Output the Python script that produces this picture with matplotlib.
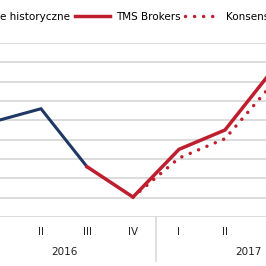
import matplotlib
matplotlib.use('Agg')
import matplotlib.pyplot as plt
import matplotlib.transforms as mtransforms
from matplotlib.lines import Line2D

# quarters 2016 I .. 2017 IV
quarters = ['I', 'II', 'III', 'IV', 'I', 'II', 'III', 'IV']
years = ['2016', '2017']

historic_x = [0, 1, 2]
historic = [4.95, 5.6, 2.6]

tms_x = [2, 3, 4, 5, 6]
tms = [2.6, 1.03, 3.5, 4.5, 7.5]

cons_x = [3, 4, 5, 6]
cons = [1.03, 3.05, 4.05, 6.8]

NAVY = '#1f3864'
RED = '#be1e2d'
GRID = '#d9d9d9'

W = H = 266
fig = plt.figure(figsize=(2.66, 2.66), dpi=100)

# axes spans beyond the figure (picture is a crop)
left_px, right_px = -28, 340
top_px, bottom_px = 43, 217
ax = fig.add_axes([left_px / W, (H - bottom_px) / H,
                   (right_px - left_px) / W, (bottom_px - top_px) / H])
ax.set_xlim(-0.5, 7.5)
ax.set_ylim(0, 9)

for s in ax.spines.values():
    s.set_visible(False)
ax.set_yticks(range(0, 10))
ax.yaxis.grid(True, color=GRID, linewidth=1.3)
ax.set_axisbelow(True)
ax.tick_params(left=False, labelleft=False, bottom=False)
ax.set_xticks(range(len(quarters)))
ax.set_xticklabels(quarters, fontsize=7.5, color='#222222')
ax.tick_params(axis='x', pad=4)

ax.plot(historic_x, historic, color=NAVY, lw=2.2, solid_joinstyle='miter',
        label='Dane historyczne')
ax.plot(tms_x, tms, color=RED, lw=2.5, solid_joinstyle='miter',
        label='TMS Brokers')
ax.plot(cons_x, cons, color=RED, lw=2.5, linestyle=(0, (0.01, 2.6)),
        dash_capstyle='round', label='Konsensus')

# year separators and labels
trans = mtransforms.blended_transform_factory(ax.transData, ax.transAxes)
for xs in [-0.5, 3.5, 7.5]:
    ax.add_line(Line2D([xs, xs], [0, -0.25], transform=trans, color=GRID,
                       lw=1.2, clip_on=False))
for i, yr in enumerate(years):
    ax.text(1.5 + 4 * i, -0.2, yr, transform=trans, ha='center', va='center',
            fontsize=7.5, color='#222222')

leg = ax.legend(loc='center right', bbox_to_anchor=(1.092, (H - 17) / H),
                bbox_transform=fig.transFigure, ncol=3, frameon=False,
                fontsize=7.5, handlelength=3.3, handletextpad=0.6,
                columnspacing=0.45)

fig.savefig('out.png', dpi=100)
